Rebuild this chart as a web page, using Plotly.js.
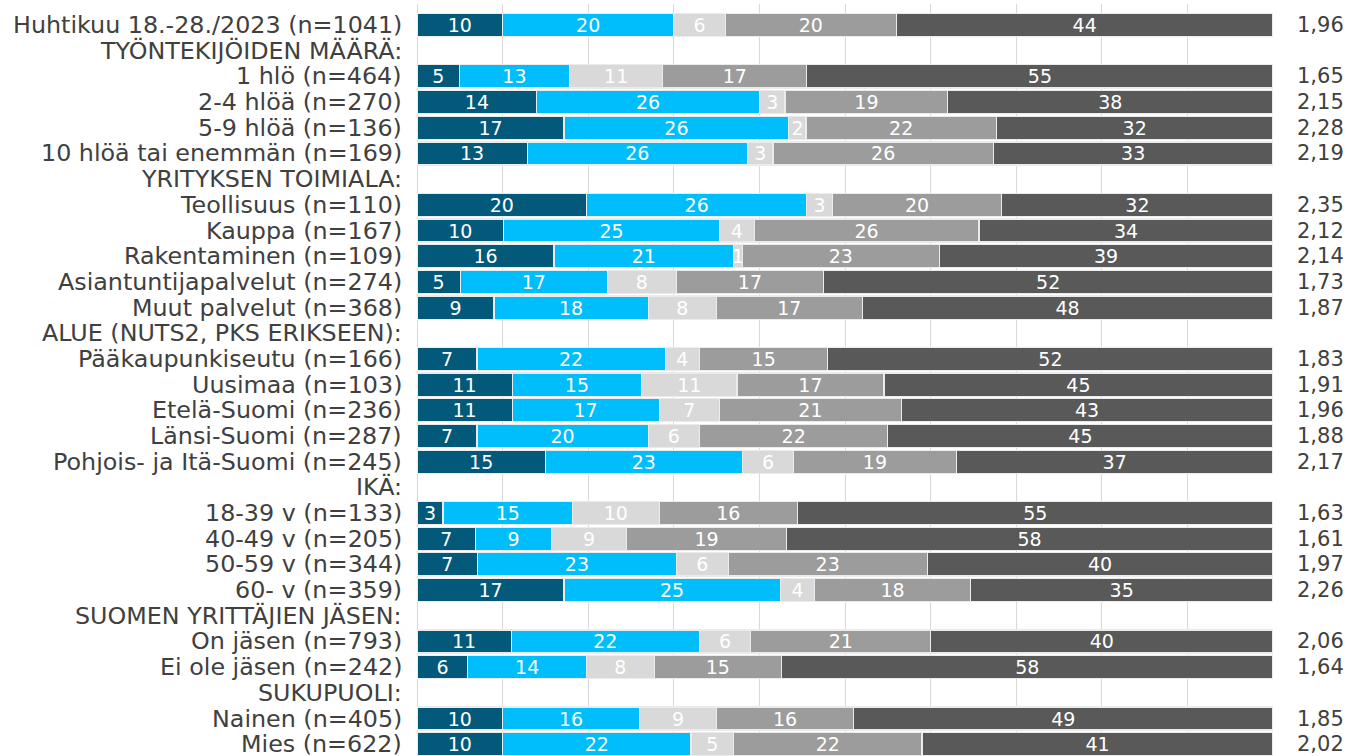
<!DOCTYPE html>
<html>
<head>
<meta charset="utf-8">
<script src="https://cdn.plot.ly/plotly-3.0.1.min.js"></script>
<style>
  html, body { margin: 0; padding: 0; background: #ffffff; overflow: hidden; }
  #chart { width: 1347px; height: 756px; }
</style>
</head>
<body>
<div id="chart"></div>
<script>
// Row labels (top to bottom)
const categories = [
  "Huhtikuu 18.-28./2023 (n=1041)",
  "TYÖNTEKIJÖIDEN MÄÄRÄ:",
  "1 hlö (n=464)",
  "2-4 hlöä (n=270)",
  "5-9 hlöä (n=136)",
  "10 hlöä tai enemmän (n=169)",
  "YRITYKSEN TOIMIALA:",
  "Teollisuus (n=110)",
  "Kauppa (n=167)",
  "Rakentaminen (n=109)",
  "Asiantuntijapalvelut (n=274)",
  "Muut palvelut (n=368)",
  "ALUE (NUTS2, PKS ERIKSEEN):",
  "Pääkaupunkiseutu (n=166)",
  "Uusimaa (n=103)",
  "Etelä-Suomi (n=236)",
  "Länsi-Suomi (n=287)",
  "Pohjois- ja Itä-Suomi (n=245)",
  "IKÄ:",
  "18-39 v (n=133)",
  "40-49 v (n=205)",
  "50-59 v (n=344)",
  "60- v (n=359)",
  "SUOMEN YRITTÄJIEN JÄSEN:",
  "On jäsen (n=793)",
  "Ei ole jäsen (n=242)",
  "SUKUPUOLI:",
  "Nainen (n=405)",
  "Mies (n=622)"
];

// Series values (percent), null for header rows
const series1 = [10, null, 5, 14, 17, 13, null, 20, 10, 16, 5, 9, null, 7, 11, 11, 7, 15, null, 3, 7, 7, 17, null, 11, 6, null, 10, 10];
const series2 = [20, null, 13, 26, 26, 26, null, 26, 25, 21, 17, 18, null, 22, 15, 17, 20, 23, null, 15, 9, 23, 25, null, 22, 14, null, 16, 22];
const series3 = [6, null, 11, 3, 2, 3, null, 3, 4, 1, 8, 8, null, 4, 11, 7, 6, 6, null, 10, 9, 6, 4, null, 6, 8, null, 9, 5];
const series4 = [20, null, 17, 19, 22, 26, null, 20, 26, 23, 17, 17, null, 15, 17, 21, 22, 19, null, 16, 19, 23, 18, null, 21, 15, null, 16, 22];
const series5 = [44, null, 55, 38, 32, 33, null, 32, 34, 39, 52, 48, null, 52, 45, 43, 45, 37, null, 55, 58, 40, 35, null, 40, 58, null, 49, 41];

// Mean values shown at right
const means = ["1,96", "", "1,65", "2,15", "2,28", "2,19", "", "2,35", "2,12", "2,14", "1,73", "1,87", "", "1,83", "1,91", "1,96", "1,88", "2,17", "", "1,63", "1,61", "1,97", "2,26", "", "2,06", "1,64", "", "1,85", "2,02"];

const allSeries = [series1, series2, series3, series4, series5];
const colors = ["#02597a", "#00bdfc", "#d9d9d9", "#9c9c9c", "#595959"];
const FONT = "DejaVu Sans, Verdana, sans-serif";

const rowIdx = categories.map((_, i) => i);

const traces = allSeries.map((vals, k) => ({
  type: "bar",
  orientation: "h",
  y: rowIdx,
  x: vals,
  text: vals.map(v => v === null ? "" : String(v)),
  textposition: "inside",
  insidetextanchor: "middle",
  textangle: 0,
  constraintext: "none",
  textfont: { family: FONT, size: 19, color: "#ffffff" },
  marker: { color: colors[k], line: { color: "#ebebeb", width: 1.2 } },
  hoverinfo: "skip",
  showlegend: false
}));

const meanAnnotations = means.map((m, i) => ({
  xref: "paper", yref: "y",
  x: 1, y: i,
  xanchor: "left", yanchor: "middle",
  xshift: 22,
  text: m,
  showarrow: false,
  font: { family: FONT, size: 21, color: "#404040" }
}));

const labelAnnotations = categories.map((c, i) => ({
  xref: "paper", yref: "y",
  x: 0, y: i,
  xanchor: "right", yanchor: "middle",
  xshift: -13,
  text: c,
  showarrow: false,
  font: { family: FONT, size: 23.8, color: "#404040" }
}));

const layout = {
  width: 1347,
  height: 756,
  margin: { l: 417, r: 74, t: 4, b: 0, pad: 0 },
  paper_bgcolor: "#ffffff",
  plot_bgcolor: "#ffffff",
  barmode: "stack",
  barnorm: "percent",
  bargap: 0.1,
  showlegend: false,
  xaxis: {
    range: [0, 100],
    dtick: 10,
    tick0: 0,
    showgrid: true,
    gridcolor: "#d9d9d9",
    gridwidth: 1,
    zeroline: true,
    zerolinecolor: "#d9d9d9",
    zerolinewidth: 1,
    showticklabels: false,
    ticks: "",
    fixedrange: true
  },
  yaxis: {
    range: [28.46, -0.82],
    showticklabels: false,
    showgrid: false,
    zeroline: false,
    ticks: "",
    fixedrange: true
  },
  annotations: labelAnnotations.concat(meanAnnotations)
};

Plotly.newPlot("chart", traces, layout, { displayModeBar: false, staticPlot: true });
</script>
</body>
</html>
